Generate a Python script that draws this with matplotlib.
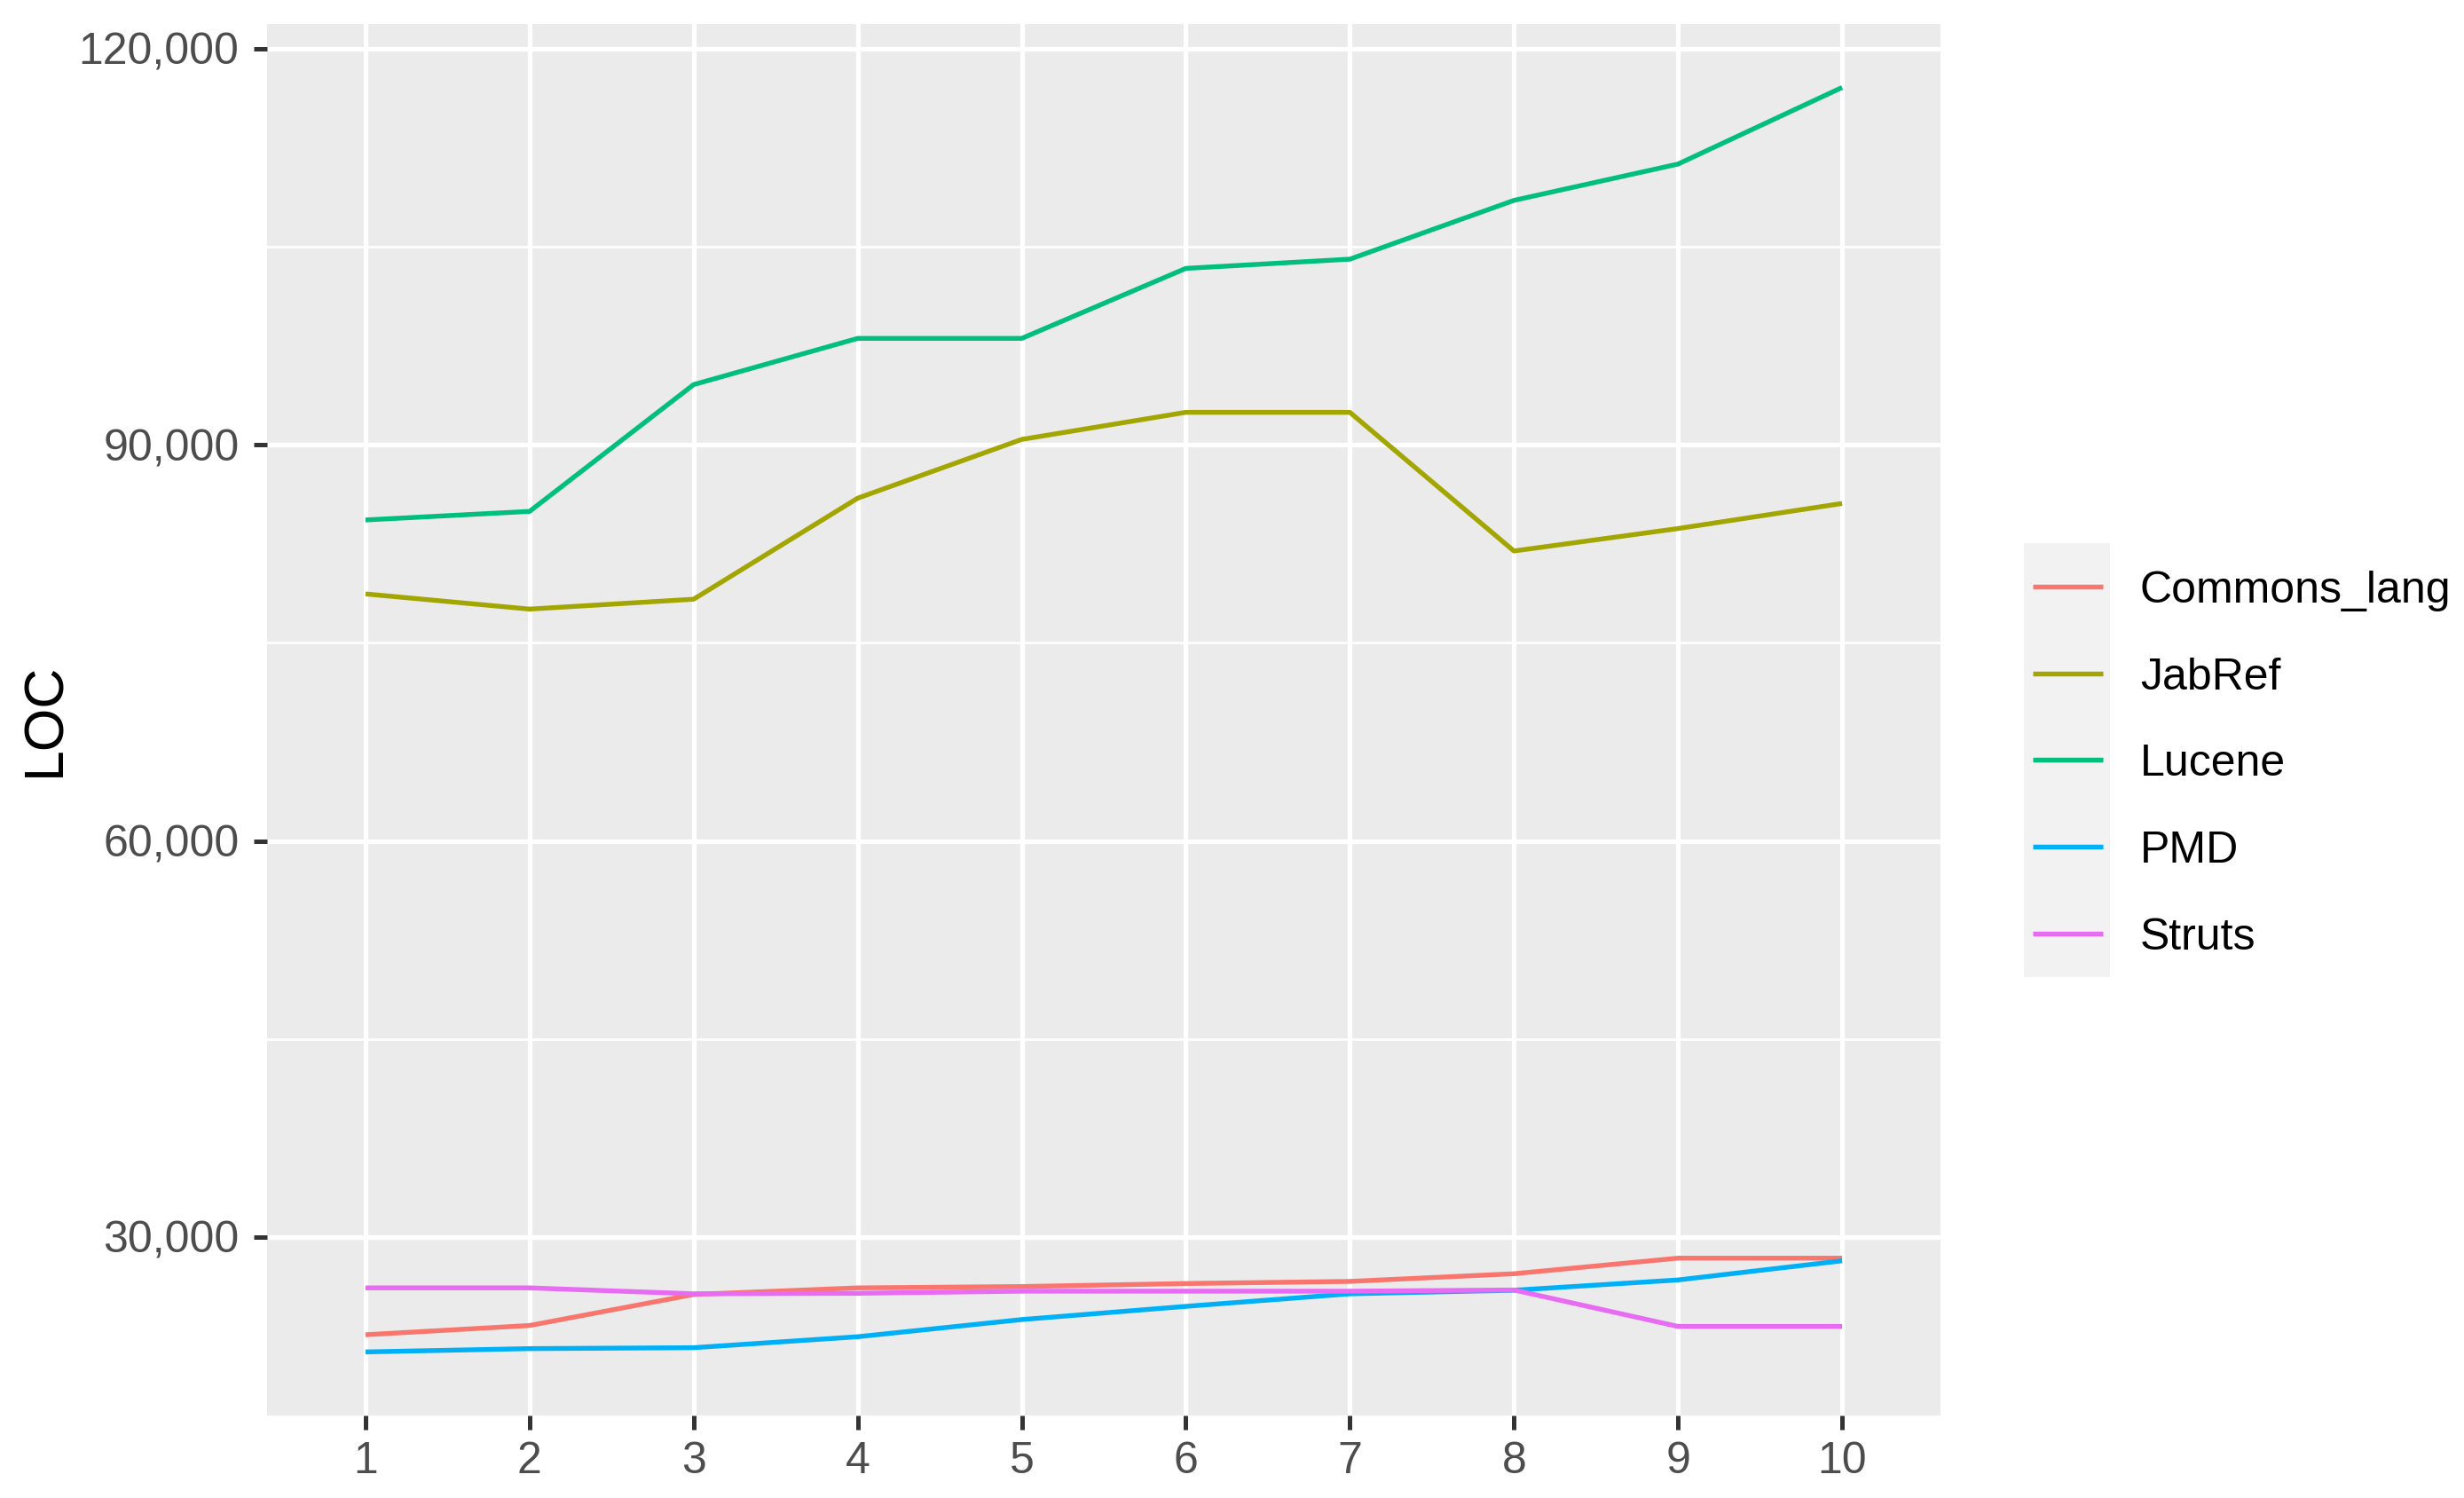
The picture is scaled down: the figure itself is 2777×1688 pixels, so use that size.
import matplotlib
matplotlib.use('Agg')
import matplotlib.pyplot as plt
from matplotlib.lines import Line2D
from matplotlib.patches import Rectangle

# ---------------- data ----------------
versions = [1, 2, 3, 4, 5, 6, 7, 8, 9, 10]
series_names = ["Commons_lang", "JabRef", "Lucene", "PMD", "Struts"]
commons_lang = [22600, 23300, 25650, 26150, 26250, 26480, 26640, 27220, 28400, 28400]
jabref = [78700, 77550, 78300, 85950, 90400, 92450, 92450, 81950, 83650, 85550]
lucene = [84300, 84950, 94550, 98050, 98050, 103350, 104050, 108500, 111250, 117050]
pmd = [21300, 21550, 21620, 22450, 23750, 24750, 25700, 25970, 26750, 28200]
struts = [26150, 26150, 25700, 25740, 25900, 25900, 25900, 25990, 23230, 23230]
series_values = [commons_lang, jabref, lucene, pmd, struts]
series_colors = ["#F8766D", "#A3A500", "#00BF7D", "#00B0F6", "#E76BF3"]

y_major = [30000, 60000, 90000, 120000]
y_major_labels = ["30,000", "60,000", "90,000", "120,000"]
y_minor = [45000, 75000, 105000]
x_ticks = versions
x_tick_labels = [str(v) for v in versions]
y_title = "LOC"

# ---------------- layout ----------------
W, H = 2777, 1688
DPI = 200
def pt(px):
    return px * 72.0 / DPI

plt.rcParams['font.family'] = ['Liberation Sans', 'DejaVu Sans']
fig = plt.figure(figsize=(W / DPI, H / DPI), dpi=DPI)
fig.patch.set_facecolor('white')

L, R, T, B = 301, 2187, 27, 1595
ax = fig.add_axes([L / W, 1 - B / H, (R - L) / W, (B - T) / H])
ax.set_facecolor('#EBEBEB')
for s in ax.spines.values():
    s.set_visible(False)

ax.set_xlim(0.4, 10.6)
ax.set_ylim(16488, 121860)
ax.set_xticks(x_ticks)
ax.set_xticklabels(x_tick_labels)
ax.set_yticks(y_major)
ax.set_yticklabels(y_major_labels)
ax.set_yticks(y_minor, minor=True)
ax.set_xticks([], minor=True)

ax.grid(which='major', color='white', linewidth=pt(5.2))
ax.grid(which='minor', axis='y', color='white', linewidth=pt(2.6))
ax.set_axisbelow(True)

ax.tick_params(axis='both', which='major', length=pt(15.5), width=pt(5.0),
               color='#333333', labelcolor='#4D4D4D', labelsize=18)
ax.tick_params(axis='x', which='major', pad=pt(13))
ax.tick_params(axis='y', which='major', pad=pt(16))
ax.tick_params(axis='y', which='minor', length=0)

for name, vals, col in zip(series_names, series_values, series_colors):
    ax.plot(versions, vals, color=col, linewidth=pt(5.4), solid_capstyle='butt',
            solid_joinstyle='round', label=name)

fig.text(51 / W, 1 - ((T + B) / 2) / H, y_title, rotation=90, ha='center',
         va='center', fontsize=22.5, color='black')

# ---------------- legend (ggplot style) ----------------
key_x0, key_x1 = 2281, 2378
key_y0 = 612
key_h = 97.7
fig.patches.append(Rectangle((key_x0 / W, 1 - (key_y0 + key_h * len(series_names)) / H),
                             (key_x1 - key_x0) / W, key_h * len(series_names) / H,
                             transform=fig.transFigure, facecolor='#F2F2F2',
                             edgecolor='none', zorder=0))
for i, (name, col) in enumerate(zip(series_names, series_colors)):
    cy = key_y0 + key_h * (i + 0.5)
    fig.lines.append(Line2D([2291 / W, 2370 / W], [1 - cy / H, 1 - cy / H],
                            transform=fig.transFigure, color=col,
                            linewidth=pt(5.4), solid_capstyle='butt'))
    fig.text(2412 / W, 1 - (cy + 18) / H, name, ha='left', va='baseline',
             fontsize=18, color='black')

fig.savefig('out.png', dpi=DPI)
